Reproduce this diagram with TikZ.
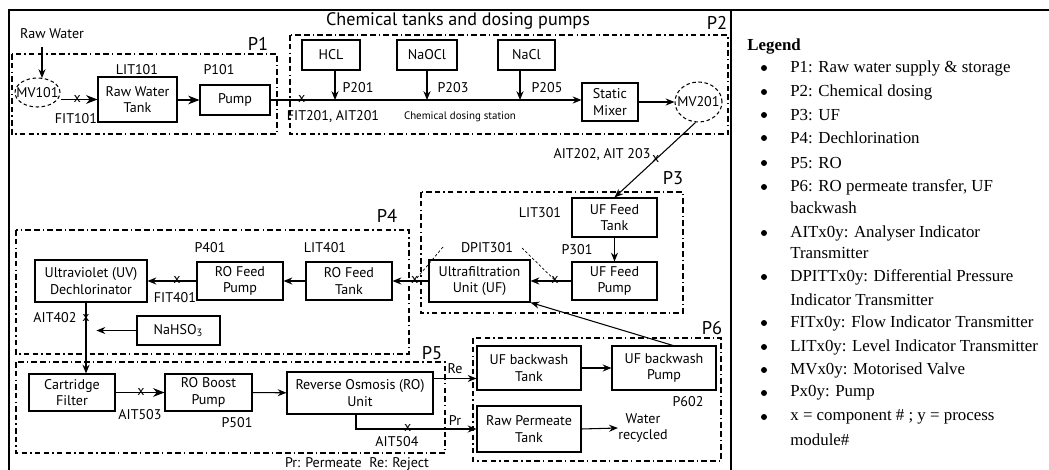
\documentclass[tikz,border=0pt]{standalone}
\usepackage{fontspec}
\setmainfont{Liberation Serif}
\newfontfamily\dsf{PT Sans}
\usetikzlibrary{arrows.meta,shapes.geometric,calc}
\newcommand{\dfs}{\dsf\fontsize{8}{9.4}\selectfont}
\newcommand{\pfs}{\dsf\fontsize{10.5}{11}\selectfont}
\newcommand{\lfs}{\fontsize{9.6}{11}\selectfont}
\begin{document}
\begin{tikzpicture}[x=0.02cm,y=-0.02cm,
  box/.style={draw,line width=0.6pt,align=center,font=\dfs,inner sep=1pt},
  valve/.style={draw,ellipse,line width=0.6pt,dash pattern=on 2pt off 1.5pt,inner sep=0pt},
  arr/.style={-{Stealth[length=5pt,width=4pt]},line width=0.6pt},
  barr/.style={-{Stealth[length=6.5pt,width=5pt]},line width=0.6pt},
  lbl/.style={font=\dfs,inner sep=0pt},
  plbl/.style={font=\pfs,inner sep=0pt},
  xmark/.style={font=\dfs,inner sep=0pt,yshift=0.3pt},
  proc/.style={line width=0.6pt,dash pattern=on 3.2pt off 1.8pt on 3.2pt off 1.8pt on 0.7pt off 1.8pt},
  dl/.style={line width=0.4pt,dash pattern=on 1.5pt off 1.2pt},
  leg/.style={font=\lfs,inner sep=0pt,anchor=west},
  bul/.style={circle,fill=black,inner sep=0pt,minimum size=0.12cm}
]
\useasboundingbox (0,0) rectangle (1049,470);
% frame
\draw[line width=1pt] (9,470) -- (9,10) -- (1049,10);
\draw[line width=1pt] (731,10) -- (731,470);

% process boxes
\draw[proc] (12,54) rectangle (277,134);
\draw[proc] (290,35) rectangle (728,134);
\draw[proc] (421,192) rectangle (683,313);
\draw[proc] (16,230) rectangle (409,354);
\draw[proc] (16,362) rectangle (445,453);
\draw[proc] (473,338) rectangle (721,461);
\node[plbl] (p1) at (258,44) {P1};
\node[plbl] (p2) at (717,23) {P2};
\node[plbl] (p3) at (673,178) {P3};
\node[plbl] (p4) at (387,216) {P4};
\node[plbl] (p5) at (432,353) {P5};
\node[plbl] (p6) at (712,328) {P6};
\node[font=\dsf\fontsize{10.3}{12}\selectfont,inner sep=0pt] (title) at (458,21) {Chemical tanks and dosing pumps};

% P1
\node[lbl] (rw) at (52,34) {Raw Water};
\node[valve,minimum width=0.9cm,minimum height=0.58cm] (mv101) at (37.5,92.5) {};
\node[lbl] at (mv101) {MV101};
\node[box,minimum width=1.58cm,minimum height=0.9cm] (tank101) at (137.5,99.5) {Raw Water\\Tank};
\node[box,minimum width=1.4cm,minimum height=0.6cm] (pump101) at (235,100) {Pump};
\node[lbl] at (137,70) {LIT101};
\node[lbl] at (219,70) {P101};
\node[lbl] at (76,119) {FIT101};
\coordinate (rwtop) at (42,47);
\draw[arr] (rwtop) -- (42,78);
\draw[barr] (mv101.east |- tank101.west) -- node[xmark,pos=0.45]{x} (tank101.west);
\draw[barr] (tank101.east |- pump101.west) -- (pump101.west);

% P2
\node[box,minimum width=1.16cm,minimum height=0.6cm] (hcl) at (331,55) {HCL};
\node[box,minimum width=1.2cm,minimum height=0.6cm] (naocl) at (427,55) {NaOCl};
\node[box,minimum width=1.14cm,minimum height=0.6cm] (nacl) at (526.5,55) {NaCl};
\node[box,minimum width=1.12cm,minimum height=0.76cm] (mixer) at (610,102) {Static\\Mixer};
\node[valve,minimum width=0.94cm,minimum height=0.8cm] (mv201) at (698.5,102) {};
\node[lbl] at (mv201) {MV201};
\draw[arr] (pump101.east) -- node[xmark,pos=0.1]{x} (mixer.west |- pump101.east);
\draw[arr] ([xshift=0.08cm]hcl.south) -- ([xshift=0.08cm]hcl.south |- pump101.east);
\draw[arr] (naocl.south) -- (naocl.south |- pump101.east);
\draw[arr] ([xshift=-0.13cm]nacl.south) -- ([xshift=-0.13cm]nacl.south |- pump101.east);
\draw[arr] (mixer.east) -- (mv201.west);
\node[lbl] at (358,88) {P201};
\node[lbl] at (453,88) {P203};
\node[lbl] at (547,88) {P205};
\node[lbl] at (333,117) {FIT201, AIT201};
\node[font=\dsf\fontsize{6.2}{7}\selectfont,inner sep=0pt] at (460,117) {Chemical dosing station};

% P3
\node[box,minimum width=1.7cm,minimum height=0.78cm] (uftank) at (614.5,217.5) {UF Feed\\Tank};
\node[box,minimum width=1.7cm,minimum height=0.76cm] (ufpump) at (614.5,281) {UF Feed\\Pump};
\node[box,minimum width=2.02cm,minimum height=0.84cm] (uf) at (479.5,281) {Ultrafiltration\\Unit (UF)};
\node[lbl] at (602,155) {AIT202, AIT 203};
\node[lbl] at (540,213) {LIT301};
\node[lbl] at (577,250) {P301};
\node[lbl] (dpit) at (487,248) {DPIT301};
\draw[arr] ([xshift=-0.06cm]mv201.south) -- node[xmark,pos=0.49]{x} (uftank.north);
\draw[arr] (uftank) -- (ufpump);
\draw[arr] (ufpump.west) -- node[xmark,pos=0.4] (xb) {x} (uf.east);

% P4
\node[box,minimum width=1.72cm,minimum height=0.76cm] (rotank) at (349,281) {RO Feed\\Tank};
\node[box,minimum width=1.72cm,minimum height=0.76cm] (ropump) at (240,281) {RO Feed\\Pump};
\node[box,minimum width=2.24cm,minimum height=0.84cm] (uv) at (91,281) {Ultraviolet (UV)\\Dechlorinator};
\node[box,minimum width=1.66cm,minimum height=0.58cm] (nahso) at (178.5,330.5) {NaHSO\textsubscript{3}};
\node[lbl] at (325,248) {LIT401};
\node[lbl] at (210,248) {P401};
\node[lbl] at (175,298) {FIT401};
\node[lbl] at (55,318) {AIT402};
\draw[arr] (uf.west) -- node[xmark,pos=0.38] (xa) {x} (rotank.east);
\draw[arr] (rotank) -- (ropump);
\draw[arr] (ropump) -- node[xmark,pos=0.4]{x} (uv);
\coordinate (dpa) at (443,247);
\coordinate (dpb) at (522,248);
\draw[dl] (dpa) -- (xa.center);
\draw[dl] (dpb) -- (xb.center);

% P5
\node[box,minimum width=1.72cm,minimum height=0.74cm] (cart) at (72,392.5) {Cartridge\\Filter};
\node[box,minimum width=1.74cm,minimum height=0.74cm] (roboost) at (208.5,392.5) {RO Boost\\Pump};
\node[box,minimum width=2.92cm,minimum height=0.84cm] (ro) at (360,393) {Reverse Osmosis (RO)\\Unit};
\draw[arr] ([xshift=-0.1cm]uv.south) -- node[xmark,pos=0.22]{x} ([xshift=-0.1cm]uv.south |- cart.north);
\draw[arr] (nahso.west) -- ++(-40,0);
\draw[barr] (cart) -- node[xmark,pos=0.52]{x} (roboost);
\draw[arr] (roboost) -- (ro);
\node[lbl] at (140,415) {AIT503};
\node[lbl] at (237,423) {P501};
\node[lbl] at (397,442) {AIT504};
\node[lbl] at (357,464) {Pr: Permeate\ \ Re: Reject};

% P6
\node[box,minimum width=2.08cm,minimum height=0.88cm] (ufbwt) at (529,368) {UF backwash\\Tank};
\node[box,minimum width=2.08cm,minimum height=0.88cm] (ufbwp) at (664,368) {UF backwash\\Pump};
\node[box,minimum width=2.08cm,minimum height=0.92cm] (rpt) at (529,429) {Raw Permeate\\Tank};
\node[lbl,align=center] (water) at (643,428) {Water\\recycled};
\node[lbl] at (688,402) {P602};
\node[lbl] at (455,369) {Re};
\node[lbl] at (455,421) {Pr};
\coordinate (reo) at ($(ro.north east)+(0,7)$);
\draw[arr] (reo) -- (ufbwt.west |- reo);
\draw[arr] ([xshift=-0.08cm]ro.south) |- node[xmark,pos=0.715]{x} (rpt.west);
\draw[arr] (ufbwt) -- (ufbwp);
\draw[arr] (rpt.east) -- (water.west);
\draw[arr] ([xshift=0.18cm]ufbwp.north) -- (uf.south east);

% Legend
\node[font=\lfs\bfseries,inner sep=0pt,anchor=west] at (747,47) {Legend};
\foreach \y/\t [count=\i] in {68/{P1: Raw water supply \& storage},92/{P2: Chemical dosing},115/{P3: UF},138/{P4: Dechlorination},163/{P5: RO},187/{P6: RO permeate transfer, UF},233/{AITx0y: Analyser Indicator},277/{DPITTx0y: Differential Pressure},323/{FITx0y: Flow Indicator Transmitter},347/{LITx0y: Level Indicator Transmitter},370/{MVx0y: Motorised Valve},393/{Px0y: Pump},417/{x = component \# ; y = process}}{
  \node[bul] (b\i) at (764,\y) {};
  \node[leg] (t\i) at (790,\y) {\t};
}
\foreach \y/\t [count=\i] in {208/backwash,253/Transmitter,300/Indicator Transmitter,440/module\#}{
  \node[leg] (c\i) at (790,\y) {\t};
}
\end{tikzpicture}
\end{document}
